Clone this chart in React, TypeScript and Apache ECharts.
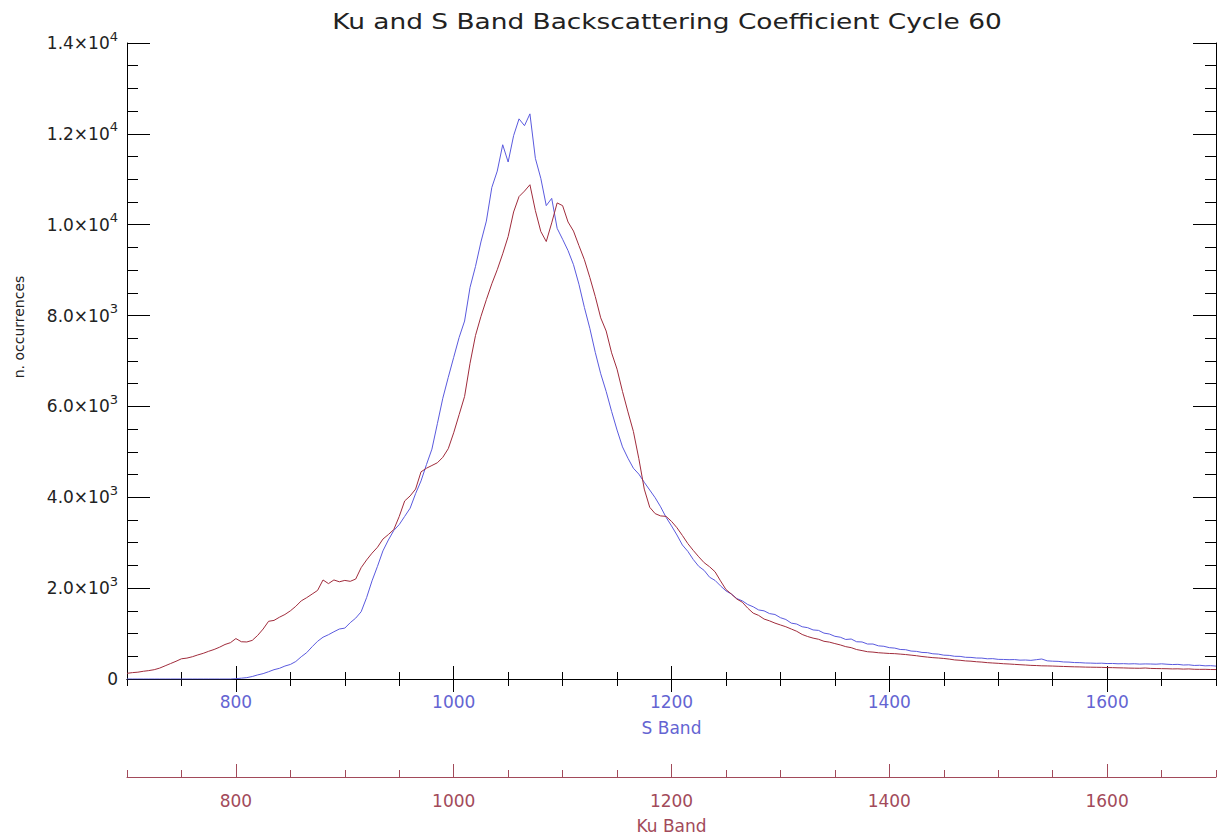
import React, { useEffect, useRef } from "react";
import * as echarts from "echarts";

const FONT = "DejaVu Sans, sans-serif";
const TITLE = "Ku and S Band Backscattering Coefficient Cycle 60";
const Y_NAME = "n. occurrences";
const S_NAME = "S Band";
const KU_NAME = "Ku Band";

const BLUE = "#5a5ade";
const BLUE_TEXT = "#6464d2";
const RED = "#a02c3c";
const RED_AXIS = "#a24a5a";

// histogram bins (backscattering coefficient, S and Ku share the same range)
const binStart = 700;
const binWidth = 5;

// S band counts, bins 700..1700 step 5
const sBand = [
  0, 0, 0, 0, 0, 0, 0, 0, 0, 0, 0, 0, 0, 0, 0, 0, 0, 0, 0, 0,
  8, 18, 30, 55, 90, 118, 160, 205, 235, 285, 320, 385, 490, 580, 710, 830, 920, 975, 1040, 1100,
  1120, 1240, 1340, 1480, 1790, 2160, 2480, 2820, 3060, 3270, 3400, 3580, 3760, 4080, 4360, 4720, 5060, 5620, 6180, 6640,
  7080, 7520, 7880, 8620, 9080, 9620, 10080, 10820, 11180, 11760, 11380, 11960, 12330, 12180, 12440, 11460, 11020, 10420, 10580, 9920,
  9680, 9430, 9120, 8690, 8180, 7720, 7190, 6720, 6330, 5890, 5480, 5110, 4860, 4640, 4510, 4330, 4160, 3990, 3790, 3560,
  3370, 3170, 2950, 2810, 2630, 2480, 2390, 2240, 2170, 2050, 1940, 1870, 1770, 1720, 1640, 1590, 1520, 1500, 1440, 1420,
  1350, 1310, 1230, 1210, 1150, 1130, 1080, 1070, 1010, 990, 940, 920, 870, 880, 820, 815, 770, 770, 730, 720,
  690, 680, 650, 645, 615, 608, 585, 580, 555, 548, 525, 520, 500, 498, 478, 475, 462, 460, 445, 448,
  432, 430, 425, 428, 415, 418, 410, 425, 440, 400, 392, 388, 375, 372, 362, 360, 352, 350, 345, 348,
  340, 342, 335, 338, 332, 336, 328, 332, 330, 326, 334, 325, 318, 322, 308, 312, 298, 302, 290, 294,
  284,
];

// Ku band counts, bins 700..1700 step 5
const kuBand = [
  125, 140, 150, 170, 185, 205, 240, 290, 340, 390, 445, 460, 490, 530, 565, 610, 650, 700, 760, 800,
  890, 820, 815, 850, 960, 1100, 1270, 1290, 1360, 1420, 1500, 1600, 1720, 1790, 1870, 1950, 2180, 2100, 2180, 2140,
  2170, 2150, 2200, 2450, 2620, 2770, 2900, 3080, 3180, 3290, 3580, 3920, 4030, 4180, 4560, 4640, 4700, 4760, 4880, 5070,
  5420, 5820, 6220, 6950, 7560, 7980, 8350, 8700, 9010, 9360, 9740, 10280, 10620, 10740, 10880, 10310, 9850, 9630, 10040, 10480,
  10420, 10060, 9860, 9540, 9230, 8840, 8420, 7950, 7660, 7180, 6820, 6330, 5880, 5450, 4850, 4180, 3780, 3640, 3590, 3580,
  3470, 3330, 3160, 2980, 2830, 2690, 2560, 2470, 2360, 2160, 1970, 1870, 1760, 1690, 1560, 1450, 1400, 1320, 1280, 1230,
  1190, 1150, 1100, 1050, 980, 935, 900, 875, 830, 812, 780, 750, 712, 690, 648, 625, 600, 592, 578, 570,
  562, 558, 548, 538, 525, 512, 495, 482, 470, 462, 452, 438, 420, 412, 398, 392, 380, 372, 360, 352,
  345, 336, 330, 322, 315, 308, 300, 296, 290, 288, 285, 280, 276, 272, 268, 266, 262, 260, 258, 256,
  252, 250, 246, 244, 240, 238, 236, 242, 233, 230, 228, 226, 222, 224, 218, 222, 214, 212, 213, 209,
  208,
];

const xMin = 700;
const xMax = 1700;
const xMajorTicks = [800, 1000, 1200, 1400, 1600];
const xMinorStep = 50;

const yMin = 0;
const yMax = 14000;
const yMajorTicks = [0, 2000, 4000, 6000, 8000, 10000, 12000, 14000];
const yTickMantissa = ["0", "2.0", "4.0", "6.0", "8.0", "1.0", "1.2", "1.4"];
const yTickExponent = ["", "3", "3", "3", "3", "4", "4", "4"];
const yMinorStep = 500;

const categories = sBand.map((_, i) => binStart + i * binWidth);

export default function App() {
  const ref = useRef<HTMLDivElement>(null);

  useEffect(() => {
    if (!ref.current) return;
    const chart = echarts.init(ref.current, undefined, { renderer: "svg" });

    const plotGrid = { left: 127, right: 7, top: 43, bottom: 158 };
    const kuGrid = { left: 127, right: 7, top: 700, bottom: 60 };

    const hiddenY = (gridIndex: number) => ({
      type: "value",
      gridIndex,
      min: 0,
      max: 1,
      show: false,
    });

    const option: any = {
      animation: false,
      backgroundColor: "#ffffff",
      textStyle: { fontFamily: FONT },
      graphic: [
        {
          type: "text",
          x: 667,
          y: 21,
          scaleX: 1.2,
          style: {
            text: TITLE,
            fontFamily: FONT,
            fontSize: 22,
            fill: "#222",
            align: "center",
            verticalAlign: "middle",
          },
        },
        {
          type: "text",
          x: 19,
          y: 327,
          rotation: Math.PI / 2,
          style: {
            text: Y_NAME,
            fontFamily: FONT,
            fontSize: 14,
            fill: "#222",
            align: "center",
            verticalAlign: "middle",
          },
        },
      ],
      grid: [plotGrid, { ...plotGrid }, kuGrid, { ...kuGrid }],
      xAxis: [
        // 0: S band bottom axis (minor ticks every 50, labels on majors)
        {
          type: "value",
          gridIndex: 0,
          position: "bottom",
          min: xMin,
          max: xMax,
          interval: xMinorStep,
          axisLine: { show: true, lineStyle: { color: "#000", width: 1 } },
          axisTick: { show: true, inside: true, length: 7, lineStyle: { color: "#000" } },
          axisLabel: {
            show: true,
            customValues: xMajorTicks,
            margin: 14,
            color: BLUE_TEXT,
            fontFamily: FONT,
            fontSize: 17,
            formatter: (v: number) => (xMajorTicks.includes(v) ? String(v) : ""),
          },
          splitLine: { show: false },
          name: S_NAME,
          nameLocation: "middle",
          nameGap: 40,
          nameTextStyle: { color: BLUE_TEXT, fontFamily: FONT, fontSize: 17 },
        },
        // 1: top axis minor ticks
        {
          type: "value",
          gridIndex: 0,
          position: "top",
          min: xMin,
          max: xMax,
          interval: xMinorStep,
          axisLine: { show: true, lineStyle: { color: "#000", width: 1 } },
          axisTick: { show: true, inside: true, length: 7, lineStyle: { color: "#000" } },
          axisLabel: { show: false },
          splitLine: { show: false },
        },
        // 2: bottom major ticks
        {
          type: "value",
          gridIndex: 1,
          position: "bottom",
          min: xMin,
          max: xMax,
          axisLine: { show: false },
          axisTick: {
            show: true,
            inside: true,
            length: 13,
            customValues: xMajorTicks,
            lineStyle: { color: "#000" },
          },
          axisLabel: { show: false },
          splitLine: { show: false },
        },
        // 3: top major ticks
        {
          type: "value",
          gridIndex: 1,
          position: "top",
          min: xMin,
          max: xMax,
          axisLine: { show: false },
          axisTick: {
            show: true,
            inside: true,
            length: 13,
            customValues: xMajorTicks,
            lineStyle: { color: "#000" },
          },
          axisLabel: { show: false },
          splitLine: { show: false },
        },
        // 4: Ku band axis (minor ticks, labels)
        {
          type: "value",
          gridIndex: 2,
          position: "bottom",
          min: xMin,
          max: xMax,
          interval: xMinorStep,
          axisLine: { show: true, lineStyle: { color: RED_AXIS, width: 1 } },
          axisTick: { show: true, inside: true, length: 7, lineStyle: { color: RED_AXIS } },
          axisLabel: {
            show: true,
            customValues: xMajorTicks,
            margin: 15,
            color: RED_AXIS,
            fontFamily: FONT,
            fontSize: 17,
            formatter: (v: number) => (xMajorTicks.includes(v) ? String(v) : ""),
          },
          splitLine: { show: false },
          name: KU_NAME,
          nameLocation: "middle",
          nameGap: 40,
          nameTextStyle: { color: RED_AXIS, fontFamily: FONT, fontSize: 17 },
        },
        // 5: Ku band major ticks
        {
          type: "value",
          gridIndex: 3,
          position: "bottom",
          min: xMin,
          max: xMax,
          axisLine: { show: false },
          axisTick: {
            show: true,
            inside: true,
            length: 13,
            customValues: xMajorTicks,
            lineStyle: { color: RED_AXIS },
          },
          axisLabel: { show: false },
          splitLine: { show: false },
        },
      ],
      yAxis: [
        // 0: left axis minor ticks + labels
        {
          type: "value",
          gridIndex: 0,
          position: "left",
          min: yMin,
          max: yMax,
          interval: yMinorStep,
          axisLine: { show: true, lineStyle: { color: "#000", width: 1 } },
          axisTick: { show: true, inside: true, length: 11, lineStyle: { color: "#000" } },
          axisLabel: {
            show: true,
            customValues: yMajorTicks,
            margin: 9,
            color: "#222",
            fontFamily: FONT,
            formatter: (v: number) => {
              const idx = yMajorTicks.indexOf(v);
              if (idx < 0) return "";
              if (!yTickExponent[idx]) return `{m|${yTickMantissa[idx]}}`;
              return `{m|${yTickMantissa[idx]}×10}{s|${yTickExponent[idx]}}`;
            },
            rich: {
              m: { fontFamily: FONT, fontSize: 17, color: "#222" },
              s: { fontFamily: FONT, fontSize: 13, color: "#222", padding: [0, 0, 14, 0] },
            },
          },
          splitLine: { show: false },
        },
        // 1: right axis minor ticks
        {
          type: "value",
          gridIndex: 0,
          position: "right",
          min: yMin,
          max: yMax,
          interval: yMinorStep,
          axisLine: { show: true, lineStyle: { color: "#000", width: 1 } },
          axisTick: { show: true, inside: true, length: 11, lineStyle: { color: "#000" } },
          axisLabel: { show: false },
          splitLine: { show: false },
        },
        // 2: left major ticks
        {
          type: "value",
          gridIndex: 1,
          position: "left",
          min: yMin,
          max: yMax,
          axisLine: { show: false },
          axisTick: {
            show: true,
            inside: true,
            length: 23,
            customValues: yMajorTicks,
            lineStyle: { color: "#000" },
          },
          axisLabel: { show: false },
          splitLine: { show: false },
        },
        // 3: right major ticks
        {
          type: "value",
          gridIndex: 1,
          position: "right",
          min: yMin,
          max: yMax,
          axisLine: { show: false },
          axisTick: {
            show: true,
            inside: true,
            length: 23,
            customValues: yMajorTicks,
            lineStyle: { color: "#000" },
          },
          axisLabel: { show: false },
          splitLine: { show: false },
        },
        hiddenY(2),
        hiddenY(3),
      ],
      series: [
        {
          name: S_NAME,
          type: "line",
          xAxisIndex: 0,
          yAxisIndex: 0,
          data: categories.map((x, i) => [x, sBand[i]]),
          showSymbol: false,
          symbol: "none",
          lineStyle: { color: BLUE, width: 1 },
          itemStyle: { color: BLUE },
          z: 3,
        },
        {
          name: KU_NAME,
          type: "line",
          xAxisIndex: 0,
          yAxisIndex: 0,
          data: categories.map((x, i) => [x, kuBand[i]]),
          showSymbol: false,
          symbol: "none",
          lineStyle: { color: RED, width: 1 },
          itemStyle: { color: RED },
          z: 4,
        },
      ],
    };

    chart.setOption(option);
    return () => chart.dispose();
  }, []);

  return (
    <div
      ref={ref}
      style={{ position: "absolute", left: 0, top: 0, width: 1223, height: 837, background: "#fff" }}
    />
  );
}
